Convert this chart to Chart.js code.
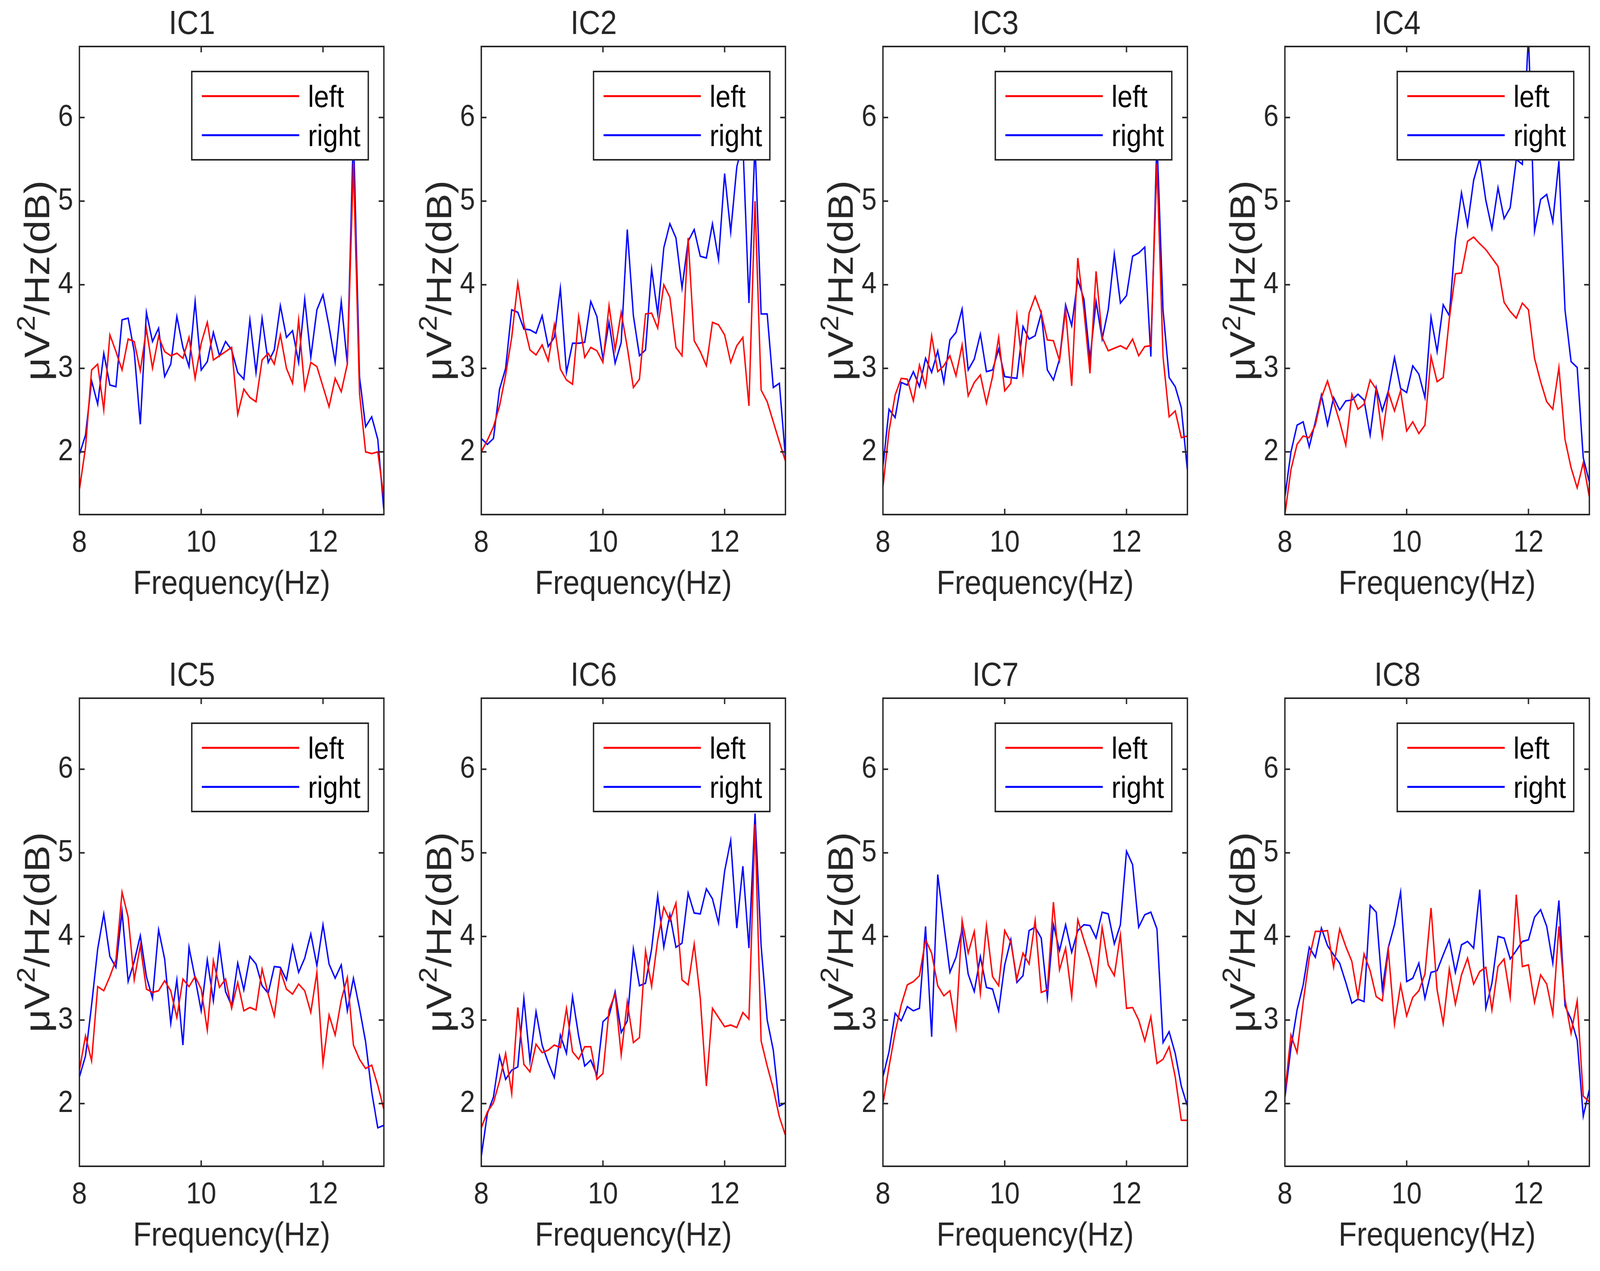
<!DOCTYPE html>
<html>
<head>
<meta charset="utf-8">
<title>IC power spectra, left vs right</title>
<script src="https://cdn.jsdelivr.net/npm/chart.js@4.4.1/dist/chart.umd.min.js"></script>
<style>
  html, body { margin: 0; padding: 0; background: #fff; overflow: hidden; }
  #figure { position: relative; background: #fff; overflow: hidden; }
  #figure canvas { position: absolute; }
</style>
</head>
<body>
<div id="figure"></div>
<script>
// Frequency bins (Hz)
const freq = [8.0, 8.1, 8.2, 8.3, 8.4, 8.5, 8.6, 8.7, 8.8, 8.9,
  9.0, 9.1, 9.2, 9.3, 9.4, 9.5, 9.6, 9.7, 9.8, 9.9,
  10.0, 10.1, 10.2, 10.3, 10.4, 10.5, 10.6, 10.7, 10.8, 10.9,
  11.0, 11.1, 11.2, 11.3, 11.4, 11.5, 11.6, 11.7, 11.8, 11.9,
  12.0, 12.1, 12.2, 12.3, 12.4, 12.5, 12.6, 12.7, 12.8, 12.9, 13.0];

const xTickValues = [8, 10, 12];
const yTickValues = [2, 3, 4, 5, 6];
const seriesNames = ["left", "right"];
const panelTitles = ["IC1", "IC2", "IC3", "IC4", "IC5", "IC6", "IC7", "IC8"];

// Power spectra, dB
const ic1Left = [1.55, 2.05, 2.98, 3.05, 2.5, 3.4, 3.2, 2.98, 3.35, 3.32, 2.97, 3.47, 3.0, 3.38, 3.2, 3.15, 3.18, 3.12, 3.37, 2.88, 3.3, 3.55, 3.1, 3.15, 3.2, 3.25, 2.45, 2.75, 2.65, 2.6, 3.1, 3.18, 3.05, 3.4, 3.0, 2.82, 3.58, 2.75, 3.07, 3.02, 2.78, 2.54, 2.88, 2.72, 3.05, 5.45, 2.7, 2.0, 1.98, 2.0, 1.45];
const ic1Right = [1.97, 2.2, 2.85, 2.57, 3.18, 2.8, 2.78, 3.58, 3.6, 3.2, 2.33, 3.67, 3.32, 3.48, 2.9, 3.05, 3.62, 3.25, 3.02, 3.8, 2.98, 3.08, 3.43, 3.15, 3.32, 3.22, 2.95, 2.87, 3.58, 2.95, 3.6, 3.07, 3.22, 3.75, 3.37, 3.45, 3.07, 3.83, 3.13, 3.7, 3.88, 3.5, 3.07, 3.8, 3.05, 5.85, 2.9, 2.3, 2.42, 2.15, 1.3];
const ic2Left = [2.0, 2.14, 2.3, 2.55, 2.92, 3.37, 4.02, 3.53, 3.22, 3.16, 3.28, 3.09, 3.52, 2.99, 2.86, 2.81, 3.62, 3.13, 3.25, 3.21, 3.07, 3.75, 3.22, 3.67, 3.25, 2.77, 2.87, 3.65, 3.66, 3.48, 4.0, 3.85, 3.25, 3.15, 4.56, 3.33, 3.2, 3.03, 3.55, 3.52, 3.4, 3.07, 3.27, 3.37, 2.55, 5.0, 2.74, 2.6, 2.36, 2.12, 1.89];
const ic2Right = [2.16, 2.09, 2.16, 2.75, 3.0, 3.7, 3.67, 3.47, 3.46, 3.42, 3.63, 3.26, 3.37, 3.96, 2.95, 3.3, 3.3, 3.31, 3.8, 3.62, 3.11, 3.55, 3.06, 3.31, 4.66, 3.63, 3.15, 3.22, 4.19, 3.65, 4.44, 4.73, 4.56, 3.96, 4.52, 4.66, 4.34, 4.32, 4.73, 4.3, 5.33, 4.63, 5.41, 5.7, 3.78, 5.7, 3.65, 3.65, 2.77, 2.82, 1.93];
const ic3Left = [1.58, 2.25, 2.68, 2.88, 2.87, 2.61, 3.04, 2.78, 3.39, 2.96, 3.03, 3.15, 2.91, 3.28, 2.67, 2.83, 2.92, 2.58, 2.9, 3.37, 2.73, 2.82, 3.63, 2.95, 3.66, 3.86, 3.66, 3.34, 3.33, 3.09, 3.7, 2.79, 4.32, 3.7, 2.94, 4.16, 3.37, 3.21, 3.24, 3.27, 3.23, 3.35, 3.15, 3.26, 3.27, 5.45, 3.14, 2.42, 2.49, 2.17, 2.19];
const ic3Right = [1.82, 2.51, 2.41, 2.83, 2.8, 2.96, 2.78, 3.12, 2.95, 3.21, 2.83, 3.34, 3.43, 3.71, 2.98, 3.11, 3.41, 2.96, 2.98, 3.23, 2.9, 2.89, 2.88, 3.5, 3.35, 3.39, 3.66, 2.98, 2.86, 3.11, 3.76, 3.51, 4.06, 3.83, 3.11, 3.8, 3.35, 3.7, 4.37, 3.78, 3.87, 4.34, 4.38, 4.45, 3.14, 5.75, 3.7, 2.89, 2.78, 2.53, 1.78];
const ic4Left = [1.25, 1.79, 2.09, 2.19, 2.17, 2.32, 2.65, 2.85, 2.6, 2.36, 2.08, 2.69, 2.51, 2.57, 2.86, 2.75, 2.18, 2.71, 2.49, 2.73, 2.25, 2.36, 2.22, 2.32, 3.14, 2.84, 2.89, 3.59, 4.13, 4.14, 4.52, 4.57, 4.49, 4.42, 4.32, 4.22, 3.79, 3.68, 3.6, 3.78, 3.7, 3.12, 2.84, 2.6, 2.51, 3.01, 2.15, 1.81, 1.57, 1.87, 1.46];
const ic4Right = [1.46, 2.0, 2.32, 2.36, 2.06, 2.36, 2.68, 2.32, 2.65, 2.5, 2.61, 2.62, 2.69, 2.62, 2.2, 2.77, 2.49, 2.73, 3.13, 2.76, 2.71, 3.03, 2.93, 2.65, 3.61, 3.2, 3.76, 3.63, 4.54, 5.1, 4.71, 5.25, 5.51, 5.01, 4.67, 5.16, 4.79, 4.92, 5.5, 5.44, 7.0, 4.64, 5.02, 5.08, 4.75, 5.48, 3.7, 3.08, 3.01, 1.93, 1.64];
const ic5Left = [2.4, 2.81, 2.51, 3.4, 3.35, 3.52, 3.72, 4.53, 4.23, 3.48, 3.89, 3.37, 3.33, 3.35, 3.47, 3.35, 3.03, 3.49, 3.4, 3.52, 3.37, 2.88, 3.71, 3.39, 3.49, 3.14, 3.45, 3.11, 3.15, 3.12, 3.61, 3.31, 3.05, 3.59, 3.37, 3.31, 3.43, 3.35, 3.09, 3.57, 2.48, 3.06, 2.82, 3.24, 3.51, 2.7, 2.53, 2.42, 2.46, 2.22, 1.93];
const ic5Right = [2.32, 2.57, 3.18, 3.85, 4.27, 3.76, 3.63, 4.3, 3.46, 3.7, 4.01, 3.52, 3.26, 4.08, 3.73, 2.96, 3.48, 2.7, 3.87, 3.5, 3.11, 3.72, 3.23, 3.89, 3.34, 3.17, 3.68, 3.36, 3.76, 3.67, 3.41, 3.32, 3.64, 3.63, 3.48, 3.89, 3.57, 3.74, 4.03, 3.65, 4.14, 3.67, 3.5, 3.66, 3.11, 3.5, 3.14, 2.74, 2.14, 1.71, 1.74];
const ic6Left = [1.71, 1.9, 2.01, 2.27, 2.6, 2.12, 3.15, 2.47, 2.38, 2.71, 2.61, 2.64, 2.7, 2.67, 3.14, 2.62, 2.53, 2.68, 2.68, 2.29, 2.36, 3.12, 3.31, 2.58, 3.22, 2.73, 2.79, 3.83, 3.4, 3.96, 4.35, 4.19, 4.4, 3.48, 3.42, 3.91, 3.26, 2.21, 3.14, 3.03, 2.92, 2.94, 2.91, 3.09, 3.01, 5.34, 2.75, 2.45, 2.18, 1.84, 1.62];
const ic6Right = [1.37, 1.88, 2.08, 2.57, 2.29, 2.4, 2.44, 3.26, 2.51, 3.1, 2.7, 2.49, 2.31, 2.82, 2.6, 3.28, 2.81, 2.45, 2.52, 2.34, 2.98, 3.05, 3.34, 2.85, 2.99, 3.85, 3.41, 3.44, 3.85, 4.49, 3.87, 4.26, 3.87, 3.92, 4.52, 4.28, 4.27, 4.57, 4.45, 4.16, 4.78, 5.15, 4.1, 4.84, 3.86, 5.47, 3.89, 3.0, 2.64, 1.97, 2.01];
const ic7Left = [2.0, 2.44, 2.85, 3.18, 3.42, 3.46, 3.53, 3.96, 3.8, 3.41, 3.29, 3.35, 2.91, 4.19, 3.8, 4.06, 3.32, 4.13, 3.52, 3.41, 4.07, 3.93, 3.49, 3.8, 3.67, 4.19, 3.33, 3.36, 4.41, 3.6, 3.86, 3.28, 4.2, 3.96, 3.73, 3.42, 4.11, 3.66, 3.53, 4.02, 3.14, 3.15, 3.0, 2.75, 3.04, 2.48, 2.53, 2.68, 2.32, 1.8, 1.8];
const ic7Right = [2.32, 2.62, 3.08, 2.99, 3.16, 3.11, 3.14, 4.12, 2.8, 4.74, 4.15, 3.57, 3.75, 4.09, 3.55, 3.34, 3.76, 3.39, 3.37, 3.11, 3.66, 3.96, 3.45, 3.53, 4.07, 4.11, 3.98, 3.27, 4.14, 3.83, 4.14, 3.81, 4.07, 4.14, 4.13, 3.98, 4.29, 4.27, 3.91, 4.14, 5.02, 4.86, 4.11, 4.26, 4.29, 4.09, 2.73, 2.86, 2.6, 2.21, 1.97];
const ic8Left = [2.13, 2.82, 2.61, 3.21, 3.74, 4.06, 4.06, 4.07, 3.63, 4.09, 3.88, 3.7, 3.27, 3.79, 3.59, 3.28, 3.23, 3.83, 2.95, 3.42, 3.05, 3.27, 3.35, 3.55, 4.34, 3.36, 2.96, 3.61, 3.19, 3.54, 3.74, 3.43, 3.58, 3.63, 3.12, 3.64, 3.73, 3.27, 4.5, 3.64, 3.66, 3.21, 3.54, 3.43, 3.07, 4.12, 3.25, 2.84, 3.23, 2.09, 2.02];
const ic8Right = [2.07, 2.67, 3.12, 3.42, 3.87, 3.75, 4.1, 3.89, 3.78, 3.68, 3.45, 3.2, 3.25, 3.22, 4.37, 4.29, 3.37, 3.87, 4.14, 4.53, 3.46, 3.5, 3.68, 3.26, 3.57, 3.59, 3.78, 3.96, 3.57, 3.9, 3.94, 3.86, 4.56, 3.14, 3.44, 4.0, 3.98, 3.73, 3.83, 3.94, 3.96, 4.23, 4.32, 4.12, 3.68, 4.43, 3.17, 3.01, 2.76, 1.85, 2.17];

const leftSeries = [ic1Left, ic2Left, ic3Left, ic4Left, ic5Left, ic6Left, ic7Left, ic8Left];
const rightSeries = [ic1Right, ic2Right, ic3Right, ic4Right, ic5Right, ic6Right, ic7Right, ic8Right];

// Layout (px, figure coordinates) - axes boxes as in the MATLAB figure
const FIG_W = 4615;
const FIG_H = 3253;
const AXES_LEFT = [229, 1388, 2547, 3706];
const AXES_TOP = [119, 1787];
const AXES_W = 878;
const AXES_H = 1198;
const YAXIS_W = 229;
const XAXIS_H = 240;
const TITLE_H = 119;
const RIGHT_PAD = 24;
const TICK_LEN = 15;
const INK = "#262626";
const FONT = "'Liberation Sans', Arial, Helvetica, sans-serif";
const LEG = { dx: 324, dy: 64, w: 509, h: 226, lineX0: 29, lineX1: 310, textX: 335, row0: 63, rowGap: 100 };
const YLABEL_BASELINE_X = 142;

// The window may be narrower than the figure: fit the figure into it
const SX = Math.min(window.innerWidth || FIG_W, FIG_W) / FIG_W;
const SY = Math.min(window.innerHeight || FIG_H, FIG_H) / FIG_H;

function toPoints(values) {
  return values.map((v, i) => ({ x: freq[i], y: v }));
}

// Box around the axes with inward ticks on all four sides
const axesBox = {
  id: "axesBox",
  afterDatasetsDraw(chart) {
    const { ctx, chartArea: a, scales } = chart;
    ctx.save();
    ctx.strokeStyle = INK;
    ctx.lineWidth = 4;
    ctx.beginPath();
    scales.x.ticks.forEach((t) => {
      const px = scales.x.getPixelForValue(t.value);
      ctx.moveTo(px, a.bottom);
      ctx.lineTo(px, a.bottom - TICK_LEN);
      ctx.moveTo(px, a.top);
      ctx.lineTo(px, a.top + TICK_LEN);
    });
    scales.y.ticks.forEach((t) => {
      const py = scales.y.getPixelForValue(t.value);
      ctx.moveTo(a.left, py);
      ctx.lineTo(a.left + TICK_LEN, py);
      ctx.moveTo(a.right, py);
      ctx.lineTo(a.right - TICK_LEN, py);
    });
    ctx.stroke();
    ctx.strokeRect(a.left, a.top, a.right - a.left, a.bottom - a.top);
    ctx.restore();
  },
};

// MATLAB-style legend: opaque white box in the upper right
const boxLegend = {
  id: "boxLegend",
  afterDraw(chart) {
    const { ctx, chartArea: a } = chart;
    const bx = a.left + LEG.dx;
    const by = a.top + LEG.dy;
    ctx.save();
    ctx.fillStyle = "#fff";
    ctx.fillRect(bx, by, LEG.w, LEG.h);
    ctx.strokeStyle = INK;
    ctx.lineWidth = 4;
    ctx.strokeRect(bx, by, LEG.w, LEG.h);
    ctx.font = "78px " + FONT;
    ctx.textBaseline = "alphabetic";
    ctx.textAlign = "left";
    chart.data.datasets.forEach((ds, i) => {
      const ly = by + LEG.row0 + i * LEG.rowGap;
      ctx.strokeStyle = ds.borderColor;
      ctx.lineWidth = 5;
      ctx.beginPath();
      ctx.moveTo(bx + LEG.lineX0, ly);
      ctx.lineTo(bx + LEG.lineX1, ly);
      ctx.stroke();
      ctx.fillStyle = "#000";
      ctx.fillText(ds.label, bx + LEG.textX, ly + 28);
    });
    ctx.restore();
  },
};

// Y axis label with a real superscript: μV^2/Hz(dB)
const yLabel = {
  id: "yLabel",
  afterDraw(chart) {
    const { ctx, chartArea: a } = chart;
    const parts = [
      { text: "μV", size: 102, rise: 0 },
      { text: "2", size: 72, rise: 42 },
      { text: "/Hz(dB)", size: 102, rise: 0 },
    ];
    ctx.save();
    let total = 0;
    parts.forEach((p) => {
      ctx.font = p.size + "px " + FONT;
      p.w = ctx.measureText(p.text).width;
      total += p.w;
    });
    ctx.translate(YLABEL_BASELINE_X, (a.top + a.bottom) / 2);
    ctx.rotate(-Math.PI / 2);
    ctx.fillStyle = INK;
    ctx.textBaseline = "alphabetic";
    ctx.textAlign = "left";
    let x = -total / 2;
    parts.forEach((p) => {
      ctx.font = p.size + "px " + FONT;
      ctx.fillText(p.text, x, -p.rise);
      x += p.w;
    });
    ctx.restore();
  },
};

const figure = document.getElementById("figure");
figure.style.width = FIG_W * SX + "px";
figure.style.height = FIG_H * SY + "px";

panelTitles.forEach((title, idx) => {
  const col = idx % 4;
  const row = Math.floor(idx / 4);
  const canvas = document.createElement("canvas");
  const w = YAXIS_W + AXES_W + RIGHT_PAD;
  const h = TITLE_H + AXES_H + XAXIS_H;
  canvas.width = w;
  canvas.height = h;
  canvas.style.width = w * SX + "px";
  canvas.style.height = h * SY + "px";
  canvas.style.left = (AXES_LEFT[col] - YAXIS_W) * SX + "px";
  canvas.style.top = (AXES_TOP[row] - TITLE_H) * SY + "px";
  figure.appendChild(canvas);

  new Chart(canvas, {
    type: "line",
    data: {
      datasets: [
        { label: seriesNames[0], data: toPoints(leftSeries[idx]), borderColor: "#ff0000", borderWidth: 4, pointRadius: 0, tension: 0, fill: false },
        { label: seriesNames[1], data: toPoints(rightSeries[idx]), borderColor: "#0000ff", borderWidth: 4, pointRadius: 0, tension: 0, fill: false },
      ],
    },
    options: {
      responsive: false,
      animation: false,
      devicePixelRatio: 1,
      layout: { padding: { left: 0, right: RIGHT_PAD, top: 0, bottom: 0 } },
      plugins: {
        legend: { display: false },
        tooltip: { enabled: false },
        title: {
          display: true,
          text: title,
          color: INK,
          font: { family: FONT, size: 86, weight: "normal", lineHeight: 1 },
          padding: { top: 20, bottom: 13 },
        },
      },
      scales: {
        x: {
          type: "linear",
          min: 8,
          max: 13,
          afterBuildTicks: (s) => { s.ticks = xTickValues.map((v) => ({ value: v })); },
          afterFit: (s) => { s.height = XAXIS_H; },
          grid: { display: false, drawTicks: false },
          border: { display: false },
          ticks: { color: INK, padding: 27, maxRotation: 0, autoSkip: false, font: { family: FONT, size: 78 } },
          title: {
            display: true,
            text: "Frequency(Hz)",
            color: INK,
            font: { family: FONT, size: 86, lineHeight: 1 },
            padding: { top: 0, bottom: 18 },
          },
        },
        y: {
          type: "linear",
          min: 1.25,
          max: 6.85,
          afterBuildTicks: (s) => { s.ticks = yTickValues.map((v) => ({ value: v })); },
          afterFit: (s) => { s.width = YAXIS_W; },
          grid: { display: false, drawTicks: false },
          border: { display: false },
          ticks: { color: INK, padding: 18, font: { family: FONT, size: 78 } },
        },
      },
    },
    plugins: [axesBox, boxLegend, yLabel],
  });
});
</script>
</body>
</html>
